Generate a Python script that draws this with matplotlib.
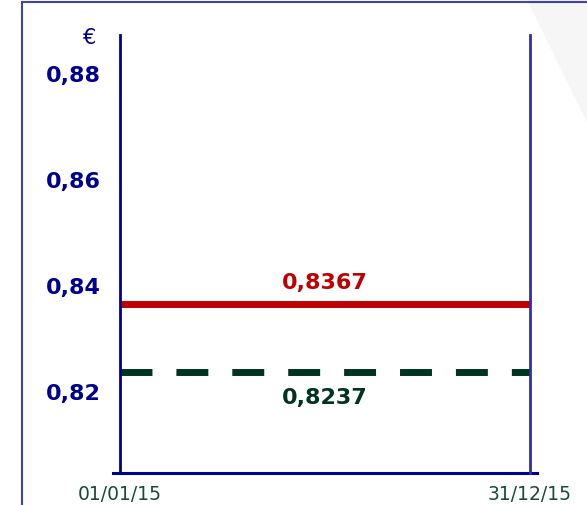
import datetime as dt
import matplotlib
matplotlib.use("Agg")
import matplotlib.pyplot as plt
import matplotlib.dates as mdates
from matplotlib.patches import Polygon, Rectangle

# data
dates = [dt.date(2015, 1, 1), dt.date(2015, 12, 31)]
date_labels = ["01/01/15", "31/12/15"]
red_rate = 0.8367
green_rate = 0.8237
yticks = [0.82, 0.84, 0.86, 0.88]
ytick_labels = ["0,82", "0,84", "0,86", "0,88"]

navy = "#000090"
red = "#c00000"
green = "#003322"

fig = plt.figure(figsize=(5.87, 5.05), dpi=100)
fig.patch.set_facecolor("white")

# faint diagonal background shape at top right
fig.patches.append(Polygon([(527 / 587, 1), (1, 1), (1, 1 - 122 / 505)],
                           closed=True, transform=fig.transFigure,
                           facecolor="#f6f6f6", edgecolor="none", zorder=0))
# frame
fig.patches.append(Rectangle((22 / 587, -0.1), 1.2, 1.1 - 1.5 / 505,
                             transform=fig.transFigure, fill=False,
                             edgecolor="#4040b0", lw=1.5, zorder=1))

ax = fig.add_axes([120 / 587, 1 - 473 / 505, 410 / 587, 438 / 505])
ax.patch.set_alpha(0)

ax.plot(dates, [red_rate, red_rate], color=red, lw=5, solid_capstyle="butt")
ax.plot(dates, [green_rate, green_rate], color=green, lw=5,
        dashes=(4.6, 3.45), dash_capstyle="butt")

ax.set_xlim(dates[0], dates[1])
ax.set_ylim(0.8047, 0.8874)

ax.set_yticks(yticks)
ax.set_yticklabels(ytick_labels, fontsize=16, fontweight="bold", color=navy)
ax.set_xticks([mdates.date2num(d) for d in dates])
ax.set_xticklabels(date_labels, fontsize=13.5, color="#1a4a3a")
ax.tick_params(axis="y", length=0, pad=14)
ax.tick_params(axis="x", length=0, pad=9)

ax.spines["top"].set_visible(False)
ax.spines["left"].set_color(navy)
ax.spines["left"].set_linewidth(2)
ax.spines["right"].set_color("#3030a0")
ax.spines["right"].set_linewidth(2)
ax.spines["bottom"].set_visible(False)
ax.plot([-0.018, 1.018], [0, 0], transform=ax.transAxes, color=navy,
        lw=2.2, clip_on=False)

mid = dates[0] + (dates[1] - dates[0]) / 2
ax.text(mid, red_rate + 0.0039, f"{red_rate:.4f}".replace(".", ","),
        color=red, fontsize=16, fontweight="bold", ha="center", va="center")
ax.text(mid, green_rate - 0.0048, f"{green_rate:.4f}".replace(".", ","),
        color=green, fontsize=16, fontweight="bold", ha="center", va="center")

ax.text(-0.075, 0.993, "€", transform=ax.transAxes, color=navy, fontsize=15,
        ha="center", va="center")

fig.savefig("out.png", dpi=100)
